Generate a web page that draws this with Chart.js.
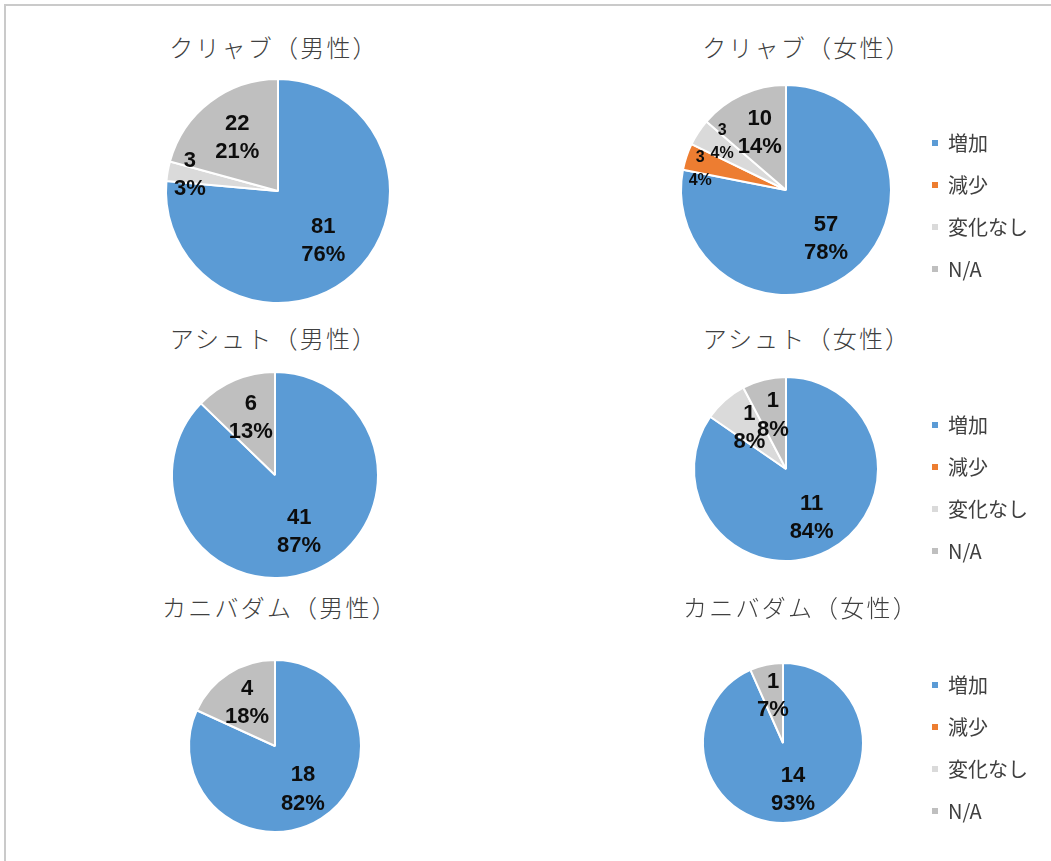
<!DOCTYPE html>
<html lang="ja">
<head>
<meta charset="utf-8">
<script src="https://cdn.jsdelivr.net/npm/chart.js@4.4.1/dist/chart.umd.min.js"></script>
<style>
  html, body { margin: 0; padding: 0; background: #fff; width: 1051px; height: 861px; overflow: hidden; }
  .frame { position: absolute; left: 4px; top: 4px; right: 0; bottom: 0;
           border-top: 2px solid #cacaca; border-left: 2px solid #cacaca; }
  .title { position: absolute; width: 400px; margin-left: -200px; text-align: center;
           font-family: "Noto Sans CJK JP", sans-serif; font-weight: 300; font-size: 24px; line-height: 30px;
           letter-spacing: 2.2px; color: #404040; white-space: nowrap; }
  canvas { position: absolute; }
</style>
</head>
<body>
<div class="frame"></div>
<script>
// categories shared by every pie
const categories = ['増加', '減少', '変化なし', 'N/A'];

const chartTitles = [
  'クリャブ（男性）', 'クリャブ（女性）',
  'アシュト（男性）', 'アシュト（女性）',
  'カニバダム（男性）', 'カニバダム（女性）'
];

// counts per category: 増加, 減少, 変化なし, N/A
const kulyabMale = [81, 0, 3, 22];
const kulyabFemale = [57, 3, 3, 10];
const ashtMale = [41, 0, 0, 6];
const ashtFemale = [11, 0, 1, 1];
const kanibadamMale = [18, 0, 0, 4];
const kanibadamFemale = [14, 0, 0, 1];

const sliceColors = ['#5b9bd5', '#ed7d31', '#dadada', '#bfbfbf'];

// placement of each pie: centre, radius, title centre, legend spacer,
// and optional per-slice label distance (fraction of radius) / turn (degrees)
const panels = [
  { data: kulyabMale,      cx: 278, cy: 191, r: 112, tx: 274, ty: 47 },
  { data: kulyabFemale,    cx: 786, cy: 190, r: 105, tx: 807, ty: 47, legend: true, spacer: 32,
    smallFont: 16, labelDist: [null, 0.84, 0.76, null], labelTurn: [0, -5, 3.5, 0] },
  { data: ashtMale,        cx: 275, cy: 475, r: 103, tx: 274, ty: 338 },
  { data: ashtFemale,      cx: 786, cy: 469, r: 92,  tx: 807, ty: 338, legend: true, spacer: 38 },
  { data: kanibadamMale,   cx: 275, cy: 746, r: 86,  tx: 280, ty: 607 },
  { data: kanibadamFemale, cx: 783, cy: 743, r: 80,  tx: 801, ty: 607, legend: true, spacer: 10 }
];

// percentages that add up to 100 (largest remainder)
function roundedPercents(values) {
  const total = values.reduce((a, b) => a + b, 0);
  const raw = values.map(v => v * 100 / total);
  const out = raw.map(Math.floor);
  let left = 100 - out.reduce((a, b) => a + b, 0);
  const order = raw.map((v, i) => i).sort((a, b) => (raw[b] - Math.floor(raw[b])) - (raw[a] - Math.floor(raw[a])));
  for (let k = 0; k < order.length && left > 0; k++) {
    if (values[order[k]] > 0) { out[order[k]]++; left--; }
  }
  return out;
}

// value + percent written inside each slice
const sliceLabels = {
  id: 'sliceLabels',
  afterDatasetsDraw(chart, args, opts) {
    const ctx = chart.ctx;
    const values = chart.data.datasets[0].data;
    const total = values.reduce((a, b) => a + b, 0);
    const pcts = roundedPercents(values);
    chart.getDatasetMeta(0).data.forEach((arc, i) => {
      if (!values[i]) return;
      const p = arc.getProps(['x', 'y', 'startAngle', 'endAngle', 'outerRadius'], true);
      const turn = (opts.labelTurn ? opts.labelTurn[i] : 0) * Math.PI / 180;
      const mid = (p.startAngle + p.endAngle) / 2 + turn;
      const small = values[i] / total < 0.06;
      let frac = small ? 0.8 : 0.6;
      if (opts.labelDist && opts.labelDist[i] != null) frac = opts.labelDist[i];
      const lx = p.x + Math.cos(mid) * p.outerRadius * frac;
      const ly = p.y + Math.sin(mid) * p.outerRadius * frac;
      const size = small && opts.smallFont ? opts.smallFont : 22;
      const gap = small && opts.smallFont ? 23 : size * 1.28;
      ctx.save();
      ctx.font = 'bold ' + size + 'px "Liberation Sans", sans-serif';
      ctx.fillStyle = '#0d0d0d';
      ctx.textAlign = 'center';
      ctx.textBaseline = 'middle';
      ctx.fillText(String(values[i]), lx, ly - gap / 2);
      ctx.fillText(pcts[i] + '%', lx, ly + gap / 2);
      ctx.restore();
    });
  }
};

panels.forEach((pn, n) => {
  const title = document.createElement('div');
  title.className = 'title';
  title.textContent = chartTitles[n];
  title.style.left = pn.tx + 'px';
  title.style.top = (pn.ty - 15) + 'px';
  document.body.appendChild(title);

  const canvas = document.createElement('canvas');
  let box, padding;
  if (pn.legend) {
    // chart area ends where the legend starts (x = 910)
    box = { left: 650, top: pn.cy - 130, width: 401, height: 260 };
    padding = { left: 2 * pn.cx - 1560, right: 13, top: 0, bottom: 0 };
  } else {
    box = { left: pn.cx - 200, top: pn.cy - pn.r - 10, width: 400, height: 2 * pn.r + 20 };
    padding = 0;
  }
  canvas.width = box.width;
  canvas.height = box.height;
  canvas.style.left = box.left + 'px';
  canvas.style.top = box.top + 'px';
  document.body.appendChild(canvas);

  new Chart(canvas, {
    type: 'pie',
    data: {
      labels: categories,
      datasets: [{
        data: pn.data,
        backgroundColor: sliceColors,
        borderColor: '#ffffff',
        borderWidth: 2,
        radius: pn.r
      }]
    },
    options: {
      responsive: false,
      animation: false,
      radius: pn.r,
      layout: { padding: padding },
      plugins: {
        tooltip: { enabled: false },
        sliceLabels: { smallFont: pn.smallFont, labelDist: pn.labelDist, labelTurn: pn.labelTurn },
        legend: {
          display: !!pn.legend,
          position: 'right',
          // empty title used as a spacer to push the items down
          title: {
            display: true,
            text: '',
            font: { size: 1, lineHeight: 1 },
            padding: { top: (pn.spacer || 1) - 1, bottom: 0 }
          },
          labels: {
            boxWidth: 6,
            boxHeight: 6,
            padding: 22,
            color: '#404040',
            font: { family: '"Noto Sans CJK JP", sans-serif', size: 20 },
            generateLabels(chart) {
              return Chart.overrides.pie.plugins.legend.labels.generateLabels(chart)
                .map(item => Object.assign(item, { lineWidth: 0 }));
            }
          }
        }
      }
    },
    plugins: [sliceLabels]
  });
});
</script>
</body>
</html>
